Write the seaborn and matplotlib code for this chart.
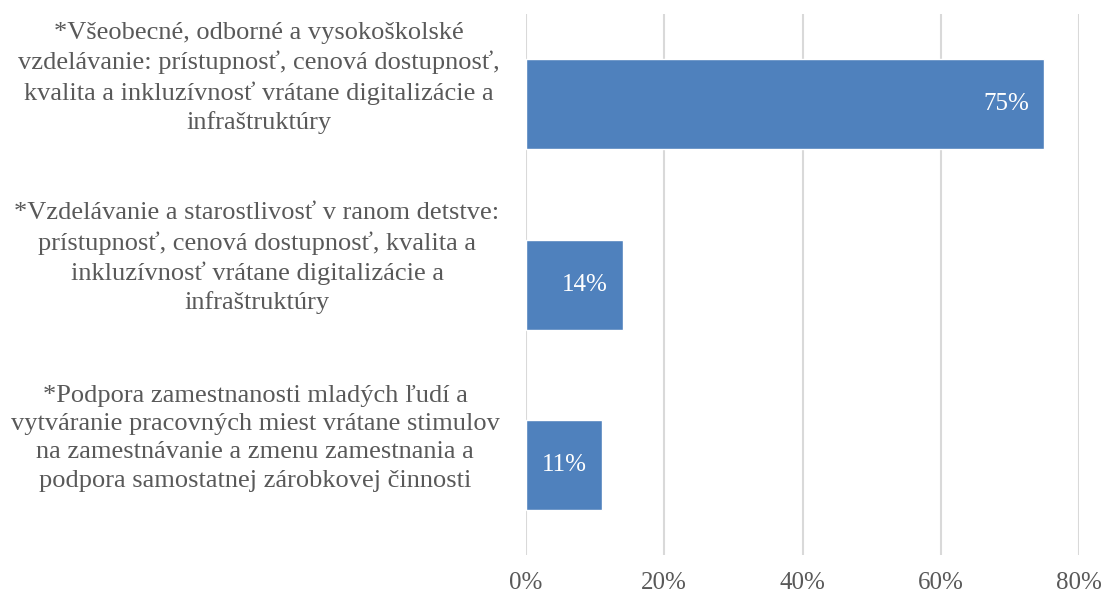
import matplotlib
matplotlib.use("Agg")
import matplotlib.pyplot as plt
import matplotlib.transforms as mtransforms
import seaborn as sns
import pandas as pd

categories = [
    "*Všeobecné, odborné a vysokoškolské\nvzdelávanie: prístupnosť, cenová dostupnosť,\nkvalita a inkluzívnosť vrátane digitalizácie a\ninfraštruktúry",
    "*Vzdelávanie a starostlivosť v ranom detstve:\nprístupnosť, cenová dostupnosť, kvalita a\ninkluzívnosť vrátane digitalizácie a\ninfraštruktúry",
    "*Podpora zamestnanosti mladých ľudí a\nvytváranie pracovných miest vrátane stimulov\nna zamestnávanie a zmenu zamestnania a\npodpora samostatnej zárobkovej činnosti",
]
values = [75, 14, 11]
xticks = [0, 20, 40, 60, 80]
xticklabels = ["0%", "20%", "40%", "60%", "80%"]

sns.set_theme(style="white")
plt.rcParams["font.family"] = ["Liberation Serif", "DejaVu Serif"]

df = pd.DataFrame({"cat": categories, "val": values})

fig = plt.figure(figsize=(11.05, 5.94), dpi=100)
ax = fig.add_axes([0.476, 0.0657, 0.5005, 0.9103])

sns.barplot(data=df, y="cat", x="val", orient="h", color="#4F81BD",
            saturation=1, width=0.5, ax=ax, zorder=3)

ax.set_xlim(0, 80)
ax.set_xticks(xticks)
ax.set_xticklabels(xticklabels)
ax.set_xlabel("")
ax.set_ylabel("")
ax.grid(axis="x", color="#D9D9D9", linewidth=1.5, zorder=0)
ax.grid(axis="y", visible=False)
for s in ax.spines.values():
    s.set_visible(False)
ax.tick_params(axis="x", length=0, labelsize=18, labelcolor="#595959", pad=12)
ax.tick_params(axis="y", length=0, labelsize=19, labelcolor="#595959", pad=19)

shift = mtransforms.ScaledTranslation(0, 0.32, fig.dpi_scale_trans)
for lbl in ax.get_yticklabels():
    lbl.set_multialignment("center")
    lbl.set_linespacing(1.36)
    lbl.set_transform(lbl.get_transform() + shift)

for i, v in enumerate(values):
    ax.annotate(f"{v}%", xy=(v, i), xytext=(-11, 0), textcoords="offset points",
                ha="right", va="center", color="white", fontsize=18, zorder=4)

fig.savefig("out.png", dpi=100)
